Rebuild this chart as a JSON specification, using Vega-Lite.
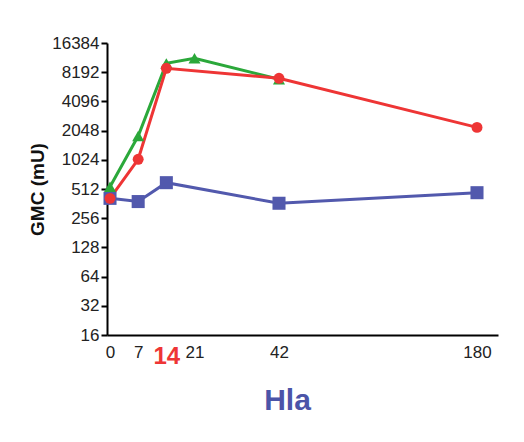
{
  "$schema": "https://vega.github.io/schema/vega-lite/v6.json",
  "width": 391,
  "height": 292,
  "autosize": "none",
  "padding": {"left": 107, "top": 43, "right": 26, "bottom": 107},
  "background": "white",
  "config": {"view": {"stroke": null}, "font": "Liberation Sans"},
  "data": {
    "values": [
      {"group": "G1", "day": 0, "gmc": 410},
      {"group": "G1", "day": 7, "gmc": 380},
      {"group": "G1", "day": 14, "gmc": 595},
      {"group": "G1", "day": 42, "gmc": 365},
      {"group": "G1", "day": 180, "gmc": 469},
      {"group": "G2", "day": 0, "gmc": 541},
      {"group": "G2", "day": 7, "gmc": 1800},
      {"group": "G2", "day": 14, "gmc": 10100},
      {"group": "G2", "day": 21, "gmc": 11400},
      {"group": "G2", "day": 42, "gmc": 6930},
      {"group": "G3", "day": 0, "gmc": 410},
      {"group": "G3", "day": 7, "gmc": 1037},
      {"group": "G3", "day": 14, "gmc": 8980},
      {"group": "G3", "day": 42, "gmc": 7090},
      {"group": "G3", "day": 180, "gmc": 2210}
    ]
  },
  "encoding": {
    "x": {
      "field": "day",
      "type": "quantitative",
      "scale": {"domain": [-0.75, 42, 180, 194], "range": [0, 172, 370, 391]},
      "axis": {
        "values": [0, 7, 14, 21, 42, 180],
        "grid": false,
        "ticks": false,
        "labelFlush": false,
        "labelOverlap": false,
        "domainColor": "black",
        "domainWidth": 2,
        "labelPadding": 9,
        "labelFont": "Liberation Sans",
        "labelColor": {"condition": {"test": "datum.value === 14", "value": "#ee3535"}, "value": "#222222"},
        "labelFontSize": {"condition": {"test": "datum.value === 14", "value": 24}, "value": 17},
        "labelFontWeight": {"condition": {"test": "datum.value === 14", "value": "bold"}, "value": "normal"},
        "title": "Hla",
        "titleColor": "#4b54a8",
        "titleFontSize": 30,
        "titleFontWeight": "bold",
        "titleX": 180,
        "titleY": 74,
        "titleBaseline": "alphabetic"
      }
    },
    "y": {
      "field": "gmc",
      "type": "quantitative",
      "scale": {"type": "log", "base": 2, "domain": [16, 16384]},
      "axis": {
        "values": [16, 32, 64, 128, 256, 512, 1024, 2048, 4096, 8192, 16384],
        "format": "d",
        "grid": false,
        "labelOverlap": false,
        "domainColor": "black",
        "domainWidth": 2,
        "tickColor": "black",
        "tickWidth": 2,
        "tickSize": 6,
        "labelPadding": 2,
        "labelFontSize": 17,
        "labelColor": "#222222",
        "title": "GMC (mU)",
        "titleFontSize": 19,
        "titleFontWeight": "bold",
        "titleColor": "#111111",
        "titlePadding": 4
      }
    },
    "color": {
      "field": "group",
      "type": "nominal",
      "scale": {"domain": ["G1", "G2", "G3"], "range": ["#5259ad", "#2ba83a", "#ee3535"]},
      "legend": null
    }
  },
  "layer": [
    {
      "mark": {"type": "line", "strokeWidth": 3},
      "encoding": {}
    },
    {
      "mark": {"type": "point", "filled": true, "opacity": 1},
      "encoding": {
        "shape": {
          "field": "group",
          "type": "nominal",
          "scale": {"domain": ["G1", "G2", "G3"], "range": ["square", "triangle-up", "circle"]},
          "legend": null
        },
        "size": {
          "field": "group",
          "type": "nominal",
          "scale": {"domain": ["G1", "G2", "G3"], "range": [170, 120, 170]},
          "legend": null
        }
      }
    }
  ]
}
